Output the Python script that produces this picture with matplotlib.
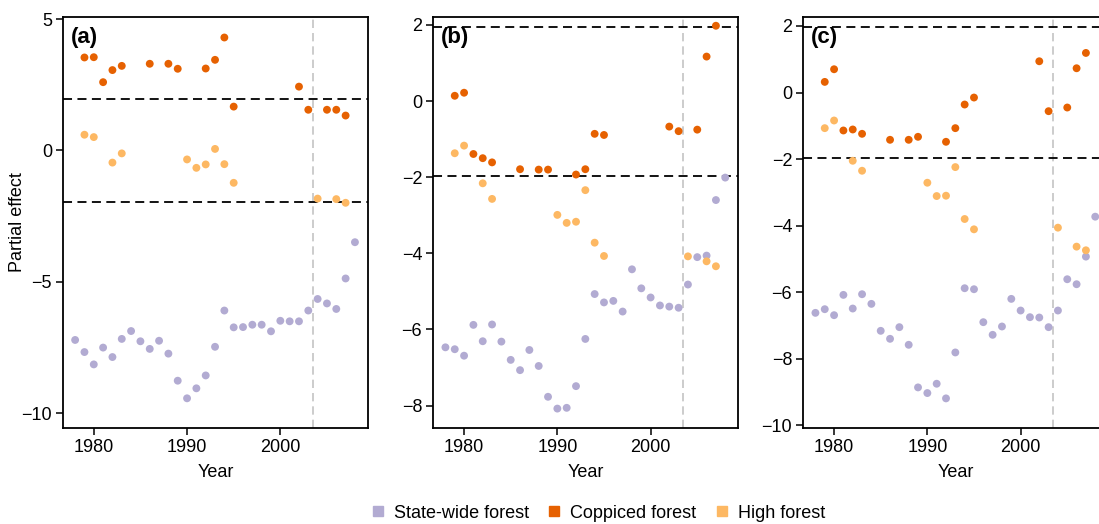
import matplotlib
matplotlib.use('Agg')
import matplotlib.pyplot as plt
import numpy as np

plt.rcParams['font.family'] = ['Liberation Sans', 'DejaVu Sans']

# colours for the three forest types
col_state = '#B2ABD2'
col_copp = '#E66101'
col_high = '#FDB863'

years_state = list(range(1978, 2009))
years_copp = [1979, 1980, 1981, 1982, 1983, 1986, 1988, 1989, 1992, 1993,
              1994, 1995, 2002, 2003, 2005, 2006, 2007]
years_high = [1979, 1980, 1982, 1983, 1990, 1991, 1992, 1993, 1994, 1995,
              2004, 2006, 2007]

# panel (a)
state_a = [-7.21, -7.67, -8.14, -7.50, -7.86, -7.17, -6.87, -7.26, -7.55, -7.24,
           -7.73, -8.76, -9.43, -9.05, -8.56, -7.47, -6.09, -6.73, -6.72, -6.63,
           -6.63, -6.88, -6.48, -6.50, -6.50, -6.09, -5.65, -5.82, -6.03, -4.87,
           -3.49]
copp_a = [3.54, 3.55, 2.60, 3.06, 3.22, 3.30, 3.30, 3.11, 3.12, 3.45,
          4.30, 1.67, 2.43, 1.55, 1.55, 1.55, 1.33]
high_a = [0.60, 0.51, -0.46, -0.11, -0.34, -0.66, -0.53, 0.06, -0.52, -1.23,
          -1.83, -1.85, -1.99]

# panel (b)
state_b = [-6.47, -6.52, -6.69, -5.88, -6.31, -5.87, -6.32, -6.80, -7.07, -6.54,
           -6.96, -7.77, -8.08, -8.06, -7.49, -6.25, -5.07, -5.29, -5.25, -5.53,
           -4.42, -4.92, -5.16, -5.37, -5.40, -5.43, -4.82, -4.10, -4.06, -2.60,
           -2.01]
copp_b = [0.14, 0.22, -1.39, -1.50, -1.61, -1.79, -1.80, -1.80, -1.93, -1.79,
          -0.86, -0.89, -0.67, -0.79, -0.75, 1.17, 1.98]
high_b = [-1.37, -1.17, -2.16, -2.57, -2.99, -3.20, -3.17, -2.34, -3.72, -4.07,
          -4.08, -4.21, -4.34]

# panel (c)
state_c = [-6.62, -6.51, -6.69, -6.08, -6.49, -6.06, -6.35, -7.16, -7.40, -7.05,
           -7.58, -8.86, -9.03, -8.75, -9.19, -7.81, -5.88, -5.91, -6.90, -7.28,
           -7.03, -6.20, -6.55, -6.75, -6.76, -7.05, -6.55, -5.61, -5.76, -4.93,
           -3.73]
copp_c = [0.32, 0.70, -1.14, -1.11, -1.24, -1.42, -1.42, -1.33, -1.48, -1.07,
          -0.36, -0.15, 0.94, -0.56, -0.45, 0.73, 1.19]
high_c = [-1.07, -0.84, -2.05, -2.35, -2.71, -3.11, -3.10, -2.24, -3.80, -4.11,
          -4.06, -4.63, -4.74]

panels = [('(a)', state_a, copp_a, high_a, (-10.56, 5.08), [5, 0, -5, -10]),
          ('(b)', state_b, copp_b, high_b, (-8.59, 2.21), [2, 0, -2, -4, -6, -8]),
          ('(c)', state_c, copp_c, high_c, (-10.08, 2.27), [2, 0, -2, -4, -6, -8, -10])]

cutoff_year = 2003.5  # grey dashed break line
crit = 1.96

fig = plt.figure(figsize=(10.99, 5.24), dpi=100)
lefts = [63 / 1099, 433.3 / 1099, 803.3 / 1099]
w = 305 / 1099
bottom = 96 / 524
h = 411 / 524

for i, (lab, st, cp, hf, ylim, yt) in enumerate(panels):
    ax = fig.add_axes([lefts[i], bottom, w, h])
    ax.axvline(cutoff_year, color='#C4C4C4', linestyle=(0, (5, 3)), lw=1.2, zorder=1)
    for yv in (crit, -crit):
        ax.axhline(yv, color='black', linestyle=(0, (5, 3)), lw=1.3, zorder=1)
    ax.scatter(years_state, st, s=32, color=col_state, edgecolors='none', zorder=3)
    ax.scatter(years_copp, cp, s=32, color=col_copp, edgecolors='none', zorder=3)
    ax.scatter(years_high, hf, s=32, color=col_high, edgecolors='none', zorder=3)

    ax.set_xlim(1976.7, 2009.4)
    ax.set_ylim(*ylim)
    ax.set_xticks([1980, 1990, 2000])
    ax.set_yticks(yt)
    ax.tick_params(labelsize=13, length=5, width=1.1, direction='out', pad=3)
    for sp in ax.spines.values():
        sp.set_linewidth(1.3)
    ax.set_xlabel('Year', fontsize=13, labelpad=6)
    ax.text(0.025, 0.975, lab, transform=ax.transAxes, fontsize=16,
            fontweight='bold', va='top', ha='left')

# y label of first panel
fig.text(18 / 1099, bottom + h / 2, 'Partial effect', rotation=90,
         ha='center', va='center', fontsize=13)

handles = [plt.Line2D([], [], marker='s', linestyle='', color=c, markersize=7)
           for c in (col_state, col_copp, col_high)]
fig.legend(handles, ['State-wide forest', 'Coppiced forest', 'High forest'],
           loc='center', bbox_to_anchor=(596 / 1099, 11 / 524), ncol=3,
           frameon=False, fontsize=13, handletextpad=0.3, columnspacing=0.8,
           handlelength=1.2)

fig.savefig('out.png', dpi=100)
